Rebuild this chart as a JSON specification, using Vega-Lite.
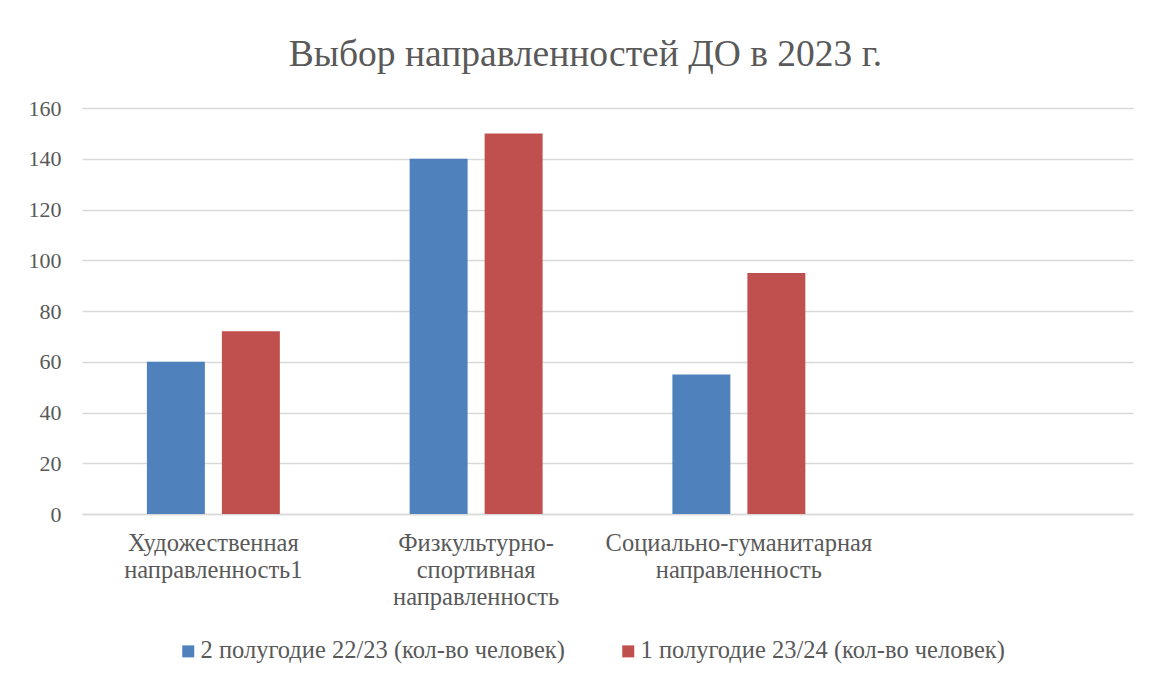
{
  "$schema": "https://vega.github.io/schema/vega-lite/v6.json",
  "autosize": "none",
  "width": 1051,
  "height": 406,
  "padding": {"left": 82, "top": 108, "right": 19, "bottom": 166},
  "background": "white",
  "title": {
    "text": "Выбор направленностей ДО в 2023 г.",
    "font": "Liberation Serif",
    "fontSize": 37.5,
    "fontWeight": "normal",
    "color": "#595959",
    "anchor": "middle",
    "dx": -22,
    "offset": 24
  },
  "data": {
    "values": [
      {"cat": "Художественная|направленность1", "series": "2 полугодие 22/23 (кол-во человек)", "value": 60},
      {"cat": "Художественная|направленность1", "series": "1 полугодие 23/24 (кол-во человек)", "value": 72},
      {"cat": "Физкультурно-|спортивная|направленность", "series": "2 полугодие 22/23 (кол-во человек)", "value": 140},
      {"cat": "Физкультурно-|спортивная|направленность", "series": "1 полугодие 23/24 (кол-во человек)", "value": 150},
      {"cat": "Социально-гуманитарная|направленность", "series": "2 полугодие 22/23 (кол-во человек)", "value": 55},
      {"cat": "Социально-гуманитарная|направленность", "series": "1 полугодие 23/24 (кол-во человек)", "value": 95}
    ]
  },
  "mark": {"type": "bar"},
  "encoding": {
    "x": {
      "field": "cat",
      "type": "nominal",
      "sort": null,
      "scale": {
        "domain": ["Художественная|направленность1", "Физкультурно-|спортивная|направленность", "Социально-гуманитарная|направленность", "_"],
        "paddingInner": 0.494,
        "paddingOuter": 0.247
      },
      "axis": {
        "title": null,
        "labelAngle": 0,
        "labelExpr": "datum.label == '_' ? '' : split(datum.label, '|')",
        "labelFont": "Liberation Serif",
        "labelFontSize": 24.5,
        "labelColor": "#595959",
        "labelLineHeight": 27,
        "labelPadding": 17,
        "labelBaseline": "top",
        "labelLimit": 500,
        "ticks": false,
        "domainColor": "#D9D9D9",
        "domainWidth": 1.5,
        "grid": false
      }
    },
    "xOffset": {
      "field": "series",
      "type": "nominal",
      "sort": ["2 полугодие 22/23 (кол-во человек)", "1 полугодие 23/24 (кол-во человек)"],
      "scale": {"paddingInner": 0.227, "paddingOuter": 0}
    },
    "y": {
      "field": "value",
      "type": "quantitative",
      "scale": {"domain": [0, 160], "nice": false},
      "axis": {
        "title": null,
        "values": [0, 20, 40, 60, 80, 100, 120, 140, 160],
        "labelFont": "Liberation Serif",
        "labelFontSize": 22,
        "labelColor": "#595959",
        "labelPadding": 21,
        "ticks": false,
        "domain": false,
        "grid": true,
        "gridColor": "#D9D9D9",
        "gridWidth": 1.5
      }
    },
    "color": {
      "field": "series",
      "type": "nominal",
      "sort": ["2 полугодие 22/23 (кол-во человек)", "1 полугодие 23/24 (кол-во человек)"],
      "scale": {
        "domain": ["2 полугодие 22/23 (кол-во человек)", "1 полугодие 23/24 (кол-во человек)"],
        "range": ["#4F81BD", "#C0504D"]
      },
      "legend": {
        "title": null,
        "orient": "none",
        "direction": "horizontal",
        "legendX": 94,
        "legendY": 531,
        "symbolType": "square",
        "symbolSize": 144,
        "symbolStrokeWidth": 0,
        "labelFont": "Liberation Serif",
        "labelFontSize": 24.5,
        "labelColor": "#595959",
        "labelOffset": 0,
        "columnPadding": 51,
        "labelLimit": 600
      }
    }
  },
  "config": {
    "view": {"stroke": null}
  }
}
